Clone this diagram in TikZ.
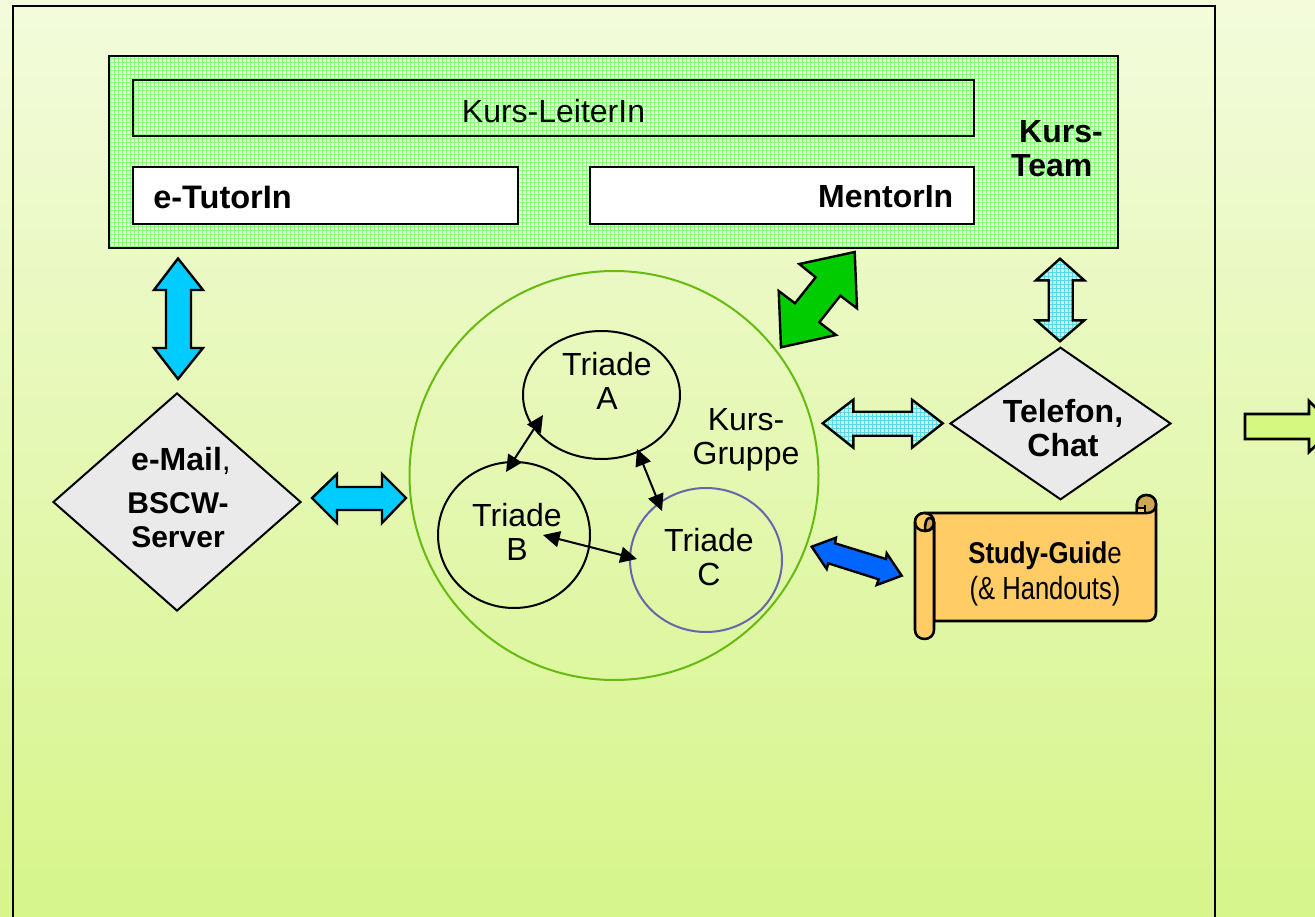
\documentclass[tikz,border=0pt]{standalone}
\usepackage{fontspec}
\setmainfont{Liberation Sans}
\usetikzlibrary{shapes.geometric,arrows.meta}
\definecolor{bgtop}{HTML}{F3FBDC}
\definecolor{bgbot}{HTML}{D6F58A}
\definecolor{gbase}{HTML}{E0FFD8}
\definecolor{gline}{HTML}{90F880}
\definecolor{tbase}{HTML}{C8F2DC}
\definecolor{tline}{HTML}{5CD8E0}
\definecolor{diam}{HTML}{EAEAEA}
\definecolor{scrollc}{HTML}{FFCC66}
\definecolor{scrolld}{HTML}{CDA555}
\definecolor{cyanb}{HTML}{00CCFF}
\definecolor{greenb}{HTML}{00CC00}
\definecolor{blueb}{HTML}{0066FF}
\definecolor{limeb}{HTML}{D4F880}
\definecolor{ringg}{HTML}{66BB11}
\definecolor{ringb}{HTML}{6666AA}
\newcommand{\bigfont}{\fontsize{24}{25.5}\selectfont}
\newcommand{\medfont}{\fontsize{22.5}{25.5}\selectfont}
\begin{document}
\begin{tikzpicture}[x=0.75pt,y=-0.75pt,
  texline/.style={line width=0.6pt},
  boxn/.style={rectangle,draw=black,line width=1.5pt,inner sep=0pt},
  blockar/.style={draw=black,line width=1.8pt,line join=miter},
  ringn/.style={ellipse,draw=black,line width=1.5pt,inner sep=0pt,align=center,font=\bigfont},
  diamn/.style={diamond,draw=black,fill=diam,line width=1.5pt,inner sep=0pt,align=center},
  lab/.style={inner sep=0pt,align=center,font=\bigfont},
  tri/.style={line width=1.5pt,{Triangle[length=12.5pt,width=12pt]}-{Triangle[length=12.5pt,width=12pt]}},
  scrollline/.style={draw=black,line width=1.9pt,line join=round}]
\path[use as bounding box,clip] (0,0) rectangle (1315,917);
\shade[top color=bgtop,bottom color=bgbot] (0,0) rectangle (1315,917);
% frame
\node[boxn,line width=2pt,minimum width=1202*0.75pt,minimum height=930*0.75pt] (frame) at (614,471) {};

% course team
\begin{scope}
\clip (109,56) rectangle (1118,248);
\fill[gbase] (109,56) rectangle (1118,248);
\foreach \i in {110,114,...,1118} \draw[gline,texline] (\i,56) -- (\i,248);
\foreach \j in {58,62,...,248} \draw[gline,texline] (109,\j) -- (1118,\j);
\end{scope}
\node[boxn,minimum width=1009*0.75pt,minimum height=192*0.75pt] (team) at (613.5,152) {};
\node[boxn,minimum width=841*0.75pt,minimum height=56*0.75pt,font=\bigfont] (leiter) at (553.5,108) {};
\node[lab] (leitertext) at (553.5,111) {Kurs-LeiterIn};
\node[boxn,fill=white,minimum width=385*0.75pt,minimum height=57*0.75pt] (tutor) at (325.5,195.5) {};
\node[lab,anchor=west,font=\fontsize{24.4}{25.5}\selectfont\bfseries] (tutortext) at (153,197) {e-TutorIn};
\node[boxn,fill=white,minimum width=384*0.75pt,minimum height=57*0.75pt] (mentor) at (782,195.5) {};
\node[lab,anchor=east,font=\bigfont\bfseries] (mentortext) at (953.5,197) {MentorIn};
\node[lab,align=left,font=\bigfont\bfseries] (teamtext) at (1057,149) {\hspace*{6pt}Kurs-\\Team};

% block arrows
\draw[blockar,fill=cyanb] (178,258.5) -- (203,290) -- (191,290) -- (191,348) -- (203,348) -- (178,379) -- (154,348) -- (166,348) -- (166,290) -- (154,290) -- cycle;
\draw[blockar,fill=cyanb] (312,498) -- (337,474) -- (337,487) -- (382,487) -- (382,474) -- (406,498) -- (382,523) -- (382,510) -- (337,510) -- (337,523) -- cycle;
\draw[blockar,fill=greenb] (854.7,252) -- (799.3,264) -- (815.7,277.3) -- (795,303.3) -- (778.7,291) -- (781,347.3) -- (836,335) -- (819.3,322.3) -- (840.3,295.7) -- (857,308.3) -- cycle;
\draw[blockar,fill=blueb] (811.7,546.7) -- (836,537.7) -- (835,543.3) -- (886,559) -- (886.7,553.3) -- (901.7,575.7) -- (876.7,585) -- (878.7,579.3) -- (828.3,563.3) -- (826.7,569) -- cycle;

% textured arrows
\begin{scope}
\clip (1060,258.7) -- (1084.3,280.3) -- (1072.7,280.3) -- (1072.7,320.3) -- (1084.3,320.3) -- (1060,341.3) -- (1036,320.3) -- (1048.7,320.3) -- (1048.7,280.3) -- (1036,280.3) -- cycle;
\fill[tbase] (1030,255) rectangle (1090,345);
\foreach \i in {1032,1036,...,1088} \draw[tline,texline] (\i,255) -- (\i,345);
\foreach \j in {256,260,...,344} \draw[tline,texline] (1030,\j) -- (1090,\j);
\end{scope}
\draw[blockar] (1060,258.7) -- (1084.3,280.3) -- (1072.7,280.3) -- (1072.7,320.3) -- (1084.3,320.3) -- (1060,341.3) -- (1036,320.3) -- (1048.7,320.3) -- (1048.7,280.3) -- (1036,280.3) -- cycle;
\begin{scope}
\clip (822.7,423.3) -- (853.3,399.7) -- (853.3,411.7) -- (912,411.7) -- (912,399.7) -- (942.7,423.3) -- (912,447.7) -- (912,435.7) -- (853.3,435.7) -- (853.3,447.7) -- cycle;
\fill[tbase] (820,396) rectangle (945,450);
\foreach \i in {820,824,...,944} \draw[tline,texline] (\i,396) -- (\i,450);
\foreach \j in {396,400,...,448} \draw[tline,texline] (820,\j) -- (945,\j);
\end{scope}
\draw[blockar] (822.7,423.3) -- (853.3,399.7) -- (853.3,411.7) -- (912,411.7) -- (912,399.7) -- (942.7,423.3) -- (912,447.7) -- (912,435.7) -- (853.3,435.7) -- (853.3,447.7) -- cycle;
\draw[blockar,fill=limeb,line width=2pt] (1245,414) -- (1309,414) -- (1309,401) -- (1335,427) -- (1309,452) -- (1309,439) -- (1245,439) -- cycle;

% group
\node[circle,draw=ringg,line width=1.5pt,minimum size=409*0.75pt,inner sep=0pt] (gruppe) at (614,475.5) {};
\node[lab] (gruppetext) at (746,440) {Kurs-\\Gruppe};
\node[ringn,minimum width=157*0.75pt,minimum height=128*0.75pt] (triA) at (601.5,395) {};
\node[lab] (triAtext) at (607,381) {Triade\\A};
\node[ringn,minimum width=152*0.75pt,minimum height=146*0.75pt] (triB) at (514,535) {};
\node[lab] (triBtext) at (517,532) {Triade\\B};
\node[ringn,draw=ringb,minimum width=152*0.75pt,minimum height=144*0.75pt] (triC) at (706,560) {};
\node[lab] (triCtext) at (709,557) {Triade\\C};

\coordinate (ab1) at (543,415);
\coordinate (ab2) at (506,472);
\coordinate (ac1) at (637,449);
\coordinate (ac2) at (662,511);
\coordinate (bc1) at (543,535);
\coordinate (bc2) at (637,559);
\draw[tri] (ab1) -- (ab2);
\draw[tri] (ac1) -- (ac2);
\draw[tri] (bc1) -- (bc2);

% diamonds
\node[diamn,minimum width=248*0.75pt,minimum height=218*0.75pt] (mail) at (177,502) {};
\node[lab,font=\bigfont] (mailtext) at (181,461) {\textbf{e-Mail},};
\node[lab,font=\medfont\bfseries] (mailtext2) at (178,520) {BSCW-\\Server};
\node[diamn,minimum width=221*0.75pt,minimum height=152.5*0.75pt] (tel) at (1060.5,423.5) {};
\node[lab,font=\bigfont\bfseries] (teltext) at (1063,428) {Telefon,\\Chat};

% scroll
\path[scrollline,fill=scrollc] (924,513) -- (1137,513) -- (1137,504) .. controls (1137,499) and (1141,495) .. (1146.5,495) .. controls (1152,495) and (1156,499) .. (1156,504) -- (1156,612) .. controls (1156,618) and (1152,621) .. (1147,621) -- (934,621) -- (934,522) -- (915,522) .. controls (915,517) and (919,513) .. (924,513) -- cycle;
\path[scrollline,fill=scrolld] (1137,504) .. controls (1137,499) and (1141,495) .. (1146.5,495) .. controls (1152,495) and (1156,499) .. (1156,504) .. controls (1156,510) and (1152,513) .. (1147,513) -- (1137,513) -- cycle;
\path[fill=scrollc] (1138,508) rectangle (1145,512);
\draw[line width=1.2pt] (1137,508) -- (1145,508) (1145,505) -- (1145,513);
\path[scrollline,fill=scrollc] (915,522) .. controls (915,517) and (919,513) .. (924,513) .. controls (930,513) and (934,517) .. (934,522) -- (934,630) .. controls (934,635) and (930,639) .. (924.5,639) .. controls (919,639) and (915,635) .. (915,630) -- cycle;
\path[scrollline,fill=scrolld] (925,531) .. controls (925,523) and (926,518) .. (929.5,518) .. controls (933,518) and (934,521) .. (934,524) .. controls (934,528) and (930,531) .. (925,531) -- cycle;
\draw[scrollline] (915,522) .. controls (915,527) and (919,531) .. (925,531) .. controls (930,531) and (934,527) .. (934,522);
\node[lab] (guidetext) at (1045,574) {\fontsize{22.5}{27}\selectfont\scalebox{0.86}[1]{\textbf{Study-Guid}e}\\[2pt]\scalebox{0.8}[1]{(\& Handouts)}};
\end{tikzpicture}
\end{document}
